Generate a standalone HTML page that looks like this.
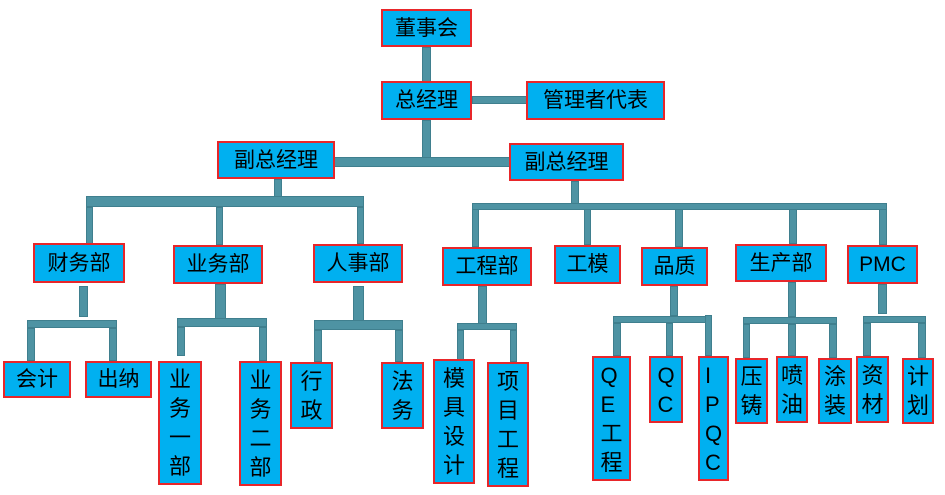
<!DOCTYPE html>
<html><head><meta charset="utf-8"><style>
body{margin:0;width:945px;height:495px;background:#fff;position:relative;overflow:hidden;font-family:"Liberation Sans","Noto Sans CJK SC",sans-serif}
.b{position:absolute;box-sizing:border-box;background:#00b0f0;border:2px solid #e8262a;color:#000;font-size:21px;display:flex;align-items:center;justify-content:center;line-height:1;white-space:nowrap}
.v{flex-direction:column;line-height:29px;font-size:22px}
.c{position:absolute;background:#4e93a3;box-shadow:inset 0 0 0 1px #3f7f8e}
</style></head><body>
<!-- connectors -->
<div class="c" style="left:422px;top:47px;width:9px;height:35px"></div>
<div class="c" style="left:472px;top:96px;width:56px;height:8px"></div>
<div class="c" style="left:422px;top:120px;width:9px;height:40px"></div>
<div class="c" style="left:334px;top:157px;width:177px;height:10px"></div>
<!-- left group -->
<div class="c" style="left:274px;top:179px;width:8px;height:18px"></div>
<div class="c" style="left:86px;top:196px;width:278px;height:11px"></div>
<div class="c" style="left:86px;top:207px;width:7px;height:37px"></div>
<div class="c" style="left:216px;top:207px;width:7px;height:38px"></div>
<div class="c" style="left:357px;top:207px;width:7px;height:37px"></div>
<div class="c" style="left:79px;top:286px;width:9px;height:31px"></div>
<div class="c" style="left:27px;top:320px;width:90px;height:8px"></div>
<div class="c" style="left:27px;top:328px;width:8px;height:33px"></div>
<div class="c" style="left:109px;top:328px;width:8px;height:33px"></div>
<div class="c" style="left:215px;top:284px;width:11px;height:35px"></div>
<div class="c" style="left:177px;top:318px;width:90px;height:9px"></div>
<div class="c" style="left:177px;top:327px;width:8px;height:29px"></div>
<div class="c" style="left:259px;top:327px;width:8px;height:34px"></div>
<div class="c" style="left:353px;top:286px;width:11px;height:35px"></div>
<div class="c" style="left:314px;top:320px;width:89px;height:10px"></div>
<div class="c" style="left:314px;top:330px;width:8px;height:32px"></div>
<div class="c" style="left:395px;top:330px;width:8px;height:32px"></div>
<!-- right group -->
<div class="c" style="left:571px;top:181px;width:8px;height:23px"></div>
<div class="c" style="left:472px;top:203px;width:415px;height:7px"></div>
<div class="c" style="left:472px;top:209px;width:7px;height:38px"></div>
<div class="c" style="left:584px;top:209px;width:7px;height:36px"></div>
<div class="c" style="left:675px;top:209px;width:8px;height:38px"></div>
<div class="c" style="left:789px;top:209px;width:8px;height:35px"></div>
<div class="c" style="left:879px;top:209px;width:8px;height:36px"></div>
<div class="c" style="left:478px;top:286px;width:9px;height:38px"></div>
<div class="c" style="left:457px;top:323px;width:60px;height:7px"></div>
<div class="c" style="left:457px;top:330px;width:7px;height:30px"></div>
<div class="c" style="left:510px;top:330px;width:7px;height:32px"></div>
<div class="c" style="left:670px;top:286px;width:8px;height:30px"></div>
<div class="c" style="left:613px;top:316px;width:99px;height:7px"></div>
<div class="c" style="left:613px;top:323px;width:8px;height:33px"></div>
<div class="c" style="left:666px;top:323px;width:7px;height:33px"></div>
<div class="c" style="left:705px;top:315px;width:7px;height:41px"></div>
<div class="c" style="left:788px;top:282px;width:8px;height:35px"></div>
<div class="c" style="left:743px;top:317px;width:94px;height:7px"></div>
<div class="c" style="left:743px;top:324px;width:7px;height:34px"></div>
<div class="c" style="left:788px;top:324px;width:8px;height:32px"></div>
<div class="c" style="left:829px;top:324px;width:8px;height:34px"></div>
<div class="c" style="left:878px;top:284px;width:9px;height:30px"></div>
<div class="c" style="left:863px;top:316px;width:63px;height:7px"></div>
<div class="c" style="left:863px;top:323px;width:8px;height:33px"></div>
<div class="c" style="left:918px;top:323px;width:8px;height:35px"></div>
<!-- boxes -->
<div class="b" style="left:381px;top:9px;width:91px;height:38px">董事会</div>
<div class="b" style="left:381px;top:81px;width:91px;height:39px">总经理</div>
<div class="b" style="left:526px;top:81px;width:139px;height:39px">管理者代表</div>
<div class="b" style="left:217px;top:141px;width:118px;height:38px">副总经理</div>
<div class="b" style="left:509px;top:143px;width:115px;height:38px">副总经理</div>
<div class="b" style="left:33px;top:243px;width:92px;height:40px">财务部</div>
<div class="b" style="left:173px;top:245px;width:90px;height:39px">业务部</div>
<div class="b" style="left:313px;top:244px;width:90px;height:39px">人事部</div>
<div class="b" style="left:3px;top:361px;width:68px;height:37px">会计</div>
<div class="b" style="left:85px;top:361px;width:67px;height:37px">出纳</div>
<div class="b v" style="left:158px;top:361px;width:44px;height:124px">业<br>务<br>一<br>部</div>
<div class="b v" style="left:239px;top:361px;width:43px;height:125px">业<br>务<br>二<br>部</div>
<div class="b v" style="left:290px;top:362px;width:43px;height:67px;justify-content:flex-start;padding-top:3px">行<br>政</div>
<div class="b v" style="left:381px;top:362px;width:43px;height:67px;justify-content:flex-start;padding-top:3px">法<br>务</div>
<div class="b" style="left:442px;top:247px;width:90px;height:39px">工程部</div>
<div class="b" style="left:554px;top:245px;width:67px;height:39px">工模</div>
<div class="b" style="left:641px;top:247px;width:67px;height:39px">品质</div>
<div class="b" style="left:735px;top:244px;width:92px;height:38px">生产部</div>
<div class="b" style="left:847px;top:245px;width:71px;height:39px">PMC</div>
<div class="b v" style="left:433px;top:359px;width:42px;height:125px">模<br>具<br>设<br>计</div>
<div class="b v" style="left:487px;top:362px;width:42px;height:125px">项<br>目<br>工<br>程</div>
<div class="b v" style="left:592px;top:356px;width:39px;height:125px">Q<br>E<br>工<br>程</div>
<div class="b v" style="left:649px;top:356px;width:34px;height:67px">Q<br>C</div>
<div class="b v" style="left:698px;top:356px;width:31px;height:125px">I<br>P<br>Q<br>C</div>
<div class="b v" style="left:735px;top:358px;width:33px;height:66px">压<br>铸</div>
<div class="b v" style="left:776px;top:356px;width:32px;height:67px">喷<br>油</div>
<div class="b v" style="left:818px;top:358px;width:34px;height:66px">涂<br>装</div>
<div class="b v" style="left:856px;top:356px;width:33px;height:67px">资<br>材</div>
<div class="b v" style="left:902px;top:358px;width:32px;height:66px">计<br>划</div>
</body></html>
